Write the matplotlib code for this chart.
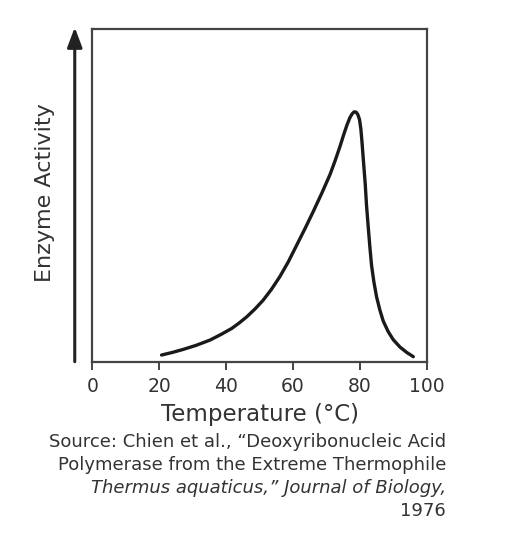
import matplotlib.pyplot as plt
import numpy as np

# temperature (deg C) and relative enzyme activity
temp = [20.7, 24.0, 27.2, 31.0, 35.2, 38.5, 41.7, 44.0, 46.2, 48.7, 51.1,
        53.6, 56.1, 58.6, 61.1, 63.6, 66.1, 68.6, 71.1, 72.6, 74.1, 75.1,
        76.1, 77.0, 77.7, 78.3, 78.9, 79.4, 79.9, 80.3, 80.6, 81.1, 81.6,
        82.0, 82.5, 83.0, 83.5, 84.2, 85.0, 86.0, 87.0, 88.5, 90.0, 92.0,
        94.0, 96.0]
activity = [0.020, 0.028, 0.037, 0.049, 0.065, 0.082, 0.100, 0.117, 0.135,
            0.159, 0.185, 0.218, 0.256, 0.300, 0.350, 0.400, 0.452, 0.506,
            0.563, 0.604, 0.648, 0.680, 0.710, 0.733, 0.745, 0.751, 0.750,
            0.743, 0.728, 0.700, 0.666, 0.600, 0.536, 0.470, 0.406, 0.345,
            0.290, 0.240, 0.195, 0.155, 0.122, 0.090, 0.066, 0.044, 0.028,
            0.015]

xticks = [0, 20, 40, 60, 80, 100]
xlabel = 'Temperature (°C)'
ylabel = 'Enzyme Activity'
source = ['Source: Chien et al., \u201cDeoxyribonucleic Acid',
          'Polymerase from the Extreme Thermophile',
          'Thermus aquaticus,\u201d Journal of Biology,',
          '1976']

txt = '#333333'
fig = plt.figure(figsize=(5.10, 5.36), dpi=100)
ax = fig.add_axes([0.181, 0.3252, 0.6557, 0.6207])

ax.plot(temp, activity, color='#1a1a1a', lw=2.4, solid_capstyle='round',
        solid_joinstyle='round')

ax.set_xlim(0, 100)
ax.set_ylim(0, 1)
ax.set_xticks(xticks)
ax.set_yticks([])
ax.tick_params(axis='x', length=6, width=1.4, color='#444444', pad=5,
               labelsize=13.5, labelcolor=txt)
for s in ax.spines.values():
    s.set_color('#444444')
    s.set_linewidth(1.6)

ax.set_xlabel(xlabel, fontsize=16.5, color=txt, labelpad=5)

# arrow on the left standing for the activity axis
ax.annotate('', xy=(-0.0525, 1.005), xytext=(-0.0525, 0.0),
            xycoords='axes fraction', textcoords='axes fraction',
            arrowprops=dict(arrowstyle='-|>,head_length=1.2,head_width=0.45',
                            color='#222222', lw=2.2, shrinkA=0, shrinkB=0))
fig.text(45 / 510, 1 - 193 / 536, ylabel, rotation=90, ha='center',
         va='center', fontsize=16, color=txt)

src_x = 446 / 510
for i, line in enumerate(source):
    fig.text(src_x, 1 - (442 + 23 * i) / 536, line, ha='right', va='center',
             fontsize=13, color=txt, style='italic' if i == 2 else 'normal')

fig.savefig('out.png', dpi=100)
